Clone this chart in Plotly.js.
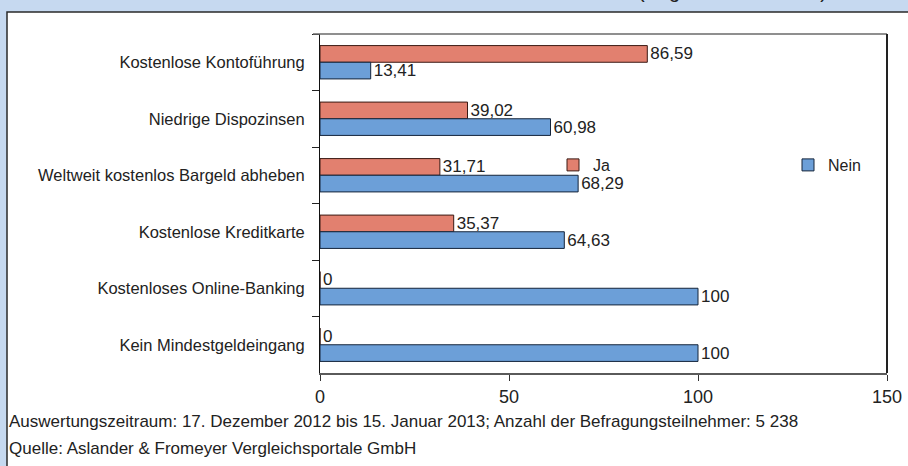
<!DOCTYPE html>
<html>
<head>
<meta charset="utf-8">
<script src="https://cdn.plot.ly/plotly-3.0.1.min.js"></script>
<style>
html,body{margin:0;padding:0;background:#c6d9f0;}
#chart{width:908px;height:466px;}
</style>
</head>
<body>
<div id="chart"></div>
<script>
// ---- data ----
var categories = [
  "Kostenlose Kontoführung",
  "Niedrige Dispozinsen",
  "Weltweit kostenlos Bargeld abheben",
  "Kostenlose Kreditkarte",
  "Kostenloses Online-Banking",
  "Kein Mindestgeldeingang"
];
var jaValues   = [86.59, 39.02, 31.71, 35.37, 0, 0];
var neinValues = [13.41, 60.98, 68.29, 64.63, 100, 100];
var seriesNames = ["Ja", "Nein"];
var xTickValues = [0, 50, 100, 150];
var footnote1 = "Auswertungszeitraum: 17. Dezember 2012 bis 15. Januar 2013; Anzahl der Befragungsteilnehmer: 5 238";
var footnote2 = "Quelle: Aslander &amp; Fromeyer Vergleichsportale GmbH";
var titleFragment = "(Angaben in Prozent)";

function fmt(v){
  if (Math.round(v) === v) return String(v);
  return v.toFixed(2).replace('.', ',');
}

var W = 908, H = 466;
var L = 320, R = 887, T = 34, B = 373;
var pw = R - L, ph = B - T;
function px2x(p){ return (p - L) / pw; }
function py2y(p){ return (B - p) / ph; }

var FONT = '"Liberation Sans", Arial, sans-serif';
var TXT = '#222222';

var traceJa = {
  type: 'bar', orientation: 'h', name: seriesNames[0], legend: 'legend',
  y: categories, x: jaValues,
  text: jaValues.map(fmt), textposition: 'outside', cliponaxis: false, constraintext: 'none',
  textfont: {family: FONT, size: 17, color: TXT},
  marker: {color: '#e2806f', line: {color: '#3a1a14', width: 1}},
  hoverinfo: 'x+y'
};
var traceNein = {
  type: 'bar', orientation: 'h', name: seriesNames[1], legend: 'legend2',
  y: categories, x: neinValues,
  text: neinValues.map(fmt), textposition: 'outside', cliponaxis: false, constraintext: 'none',
  textfont: {family: FONT, size: 17, color: TXT},
  marker: {color: '#6c9fd8', line: {color: '#14243a', width: 1}},
  hoverinfo: 'x+y'
};

function legendAt(pxX){
  return {
    orientation: 'h', x: px2x(pxX), y: py2y(165), xanchor: 'left', yanchor: 'middle',
    bgcolor: 'rgba(0,0,0,0)', font: {family: FONT, size: 16, color: TXT},
    itemwidth: 30
  };
}

var layout = {
  width: W, height: H,
  margin: {l: L, r: W - R, t: T, b: H - B, pad: 0},
  paper_bgcolor: '#c6d9f0',
  plot_bgcolor: '#ffffff',
  font: {family: FONT, size: 16, color: TXT},
  barmode: 'group',
  bargap: 0.41,
  bargroupgap: 0,
  showlegend: true,
  legend: legendAt(553),
  legend2: legendAt(788),
  xaxis: {
    range: [0, 150], tickvals: xTickValues, ticktext: xTickValues.map(String),
    showgrid: false, zeroline: false,
    showline: true, linecolor: '#5a5a5a', linewidth: 2, mirror: false,
    ticks: 'outside', ticklen: 6, tickcolor: '#333333', tickwidth: 1,
    tickfont: {family: FONT, size: 18, color: TXT},
    fixedrange: true
  },
  yaxis: {
    type: 'category', autorange: 'reversed',
    showgrid: false, zeroline: false,
    showline: true, linecolor: '#111111', linewidth: 1, mirror: false,
    ticks: 'outside', tickson: 'boundaries', ticklen: 7, tickcolor: '#222222', tickwidth: 1,
    tickfont: {family: FONT, size: 16.5, color: TXT},
    ticklabelstandoff: 11,
    fixedrange: true
  },
  shapes: [
    {type: 'rect', layer: 'below', xref: 'paper', yref: 'paper',
     x0: px2x(7), x1: px2x(912), y0: py2y(470), y1: py2y(12),
     fillcolor: '#ffffff', line: {color: '#2a2a2a', width: 1.5}},
    {type: 'line', xref: 'paper', yref: 'paper', x0: px2x(313), x1: 1, y0: 1, y1: 1,
     line: {color: '#6a6a6a', width: 1.5}},
    {type: 'line', xref: 'paper', yref: 'paper', x0: 1, x1: 1, y0: 0, y1: 1,
     line: {color: '#222222', width: 2}}
  ],
  annotations: [
    {xref: 'paper', yref: 'paper', x: px2x(7), y: py2y(421), xanchor: 'left', yanchor: 'middle',
     text: footnote1, showarrow: false, font: {family: FONT, size: 17, color: TXT}},
    {xref: 'paper', yref: 'paper', x: px2x(7), y: py2y(448), xanchor: 'left', yanchor: 'middle',
     text: footnote2, showarrow: false, font: {family: FONT, size: 17, color: TXT}},
    {xref: 'paper', yref: 'paper', x: px2x(636), y: py2y(4), xanchor: 'left', yanchor: 'bottom',
     text: titleFragment, showarrow: false, font: {family: FONT, size: 20, color: TXT}}
  ]
};

Plotly.newPlot('chart', [traceJa, traceNein], layout, {displayModeBar: false, staticPlot: true});
</script>
</body>
</html>
